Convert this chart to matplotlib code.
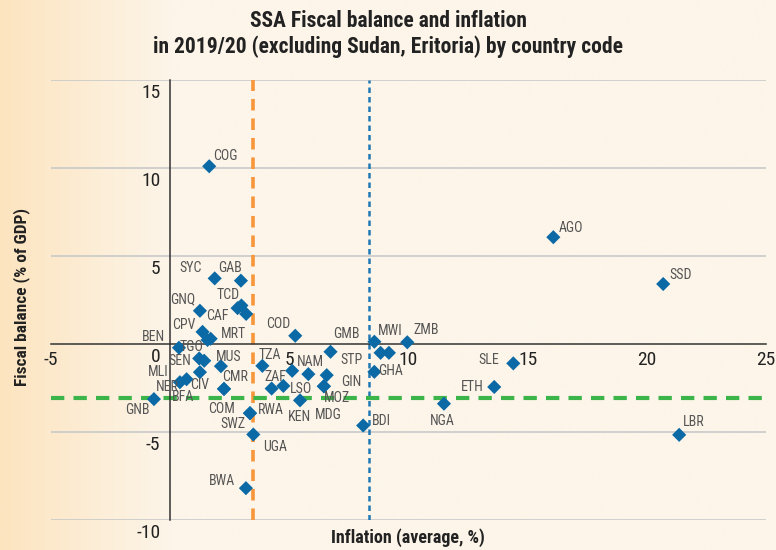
import numpy as np
import matplotlib.pyplot as plt
from matplotlib.colors import to_rgb
from matplotlib.transforms import ScaledTranslation

# --------------------------------------------------
# Data: inflation (avg, %) vs fiscal balance (% of GDP)
# --------------------------------------------------
codes = ["COG", "SYC", "GAB", "GNQ", "TCD", "CAF", "", "CPV", "MRT", "TGO",
         "BEN", "SEN", "MLI", "CIV", "NER", "BFA", "GNB", "MUS", "CMR", "COM",
         "RWA", "SWZ", "UGA", "BWA",
         "COD", "GMB", "MWI", "ZMB", "STP", "", "GHA", "TZA", "ZAF", "",
         "LSO", "NAM", "GIN", "MOZ", "MDG", "KEN", "BDI",
         "SLE", "ETH", "NGA", "LBR", "AGO", "SSD"]
inflation = [1.64, 1.87, 2.97, 1.25, 2.99, 3.19, 2.83, 1.36, 1.70, 1.57,
             0.37, 1.22, 1.43, 1.25, 0.41, 0.69, -0.68, 2.13, 2.26, 2.26,
             3.35, 3.35, 3.49, 3.18,
             5.25, 6.73, 8.57, 9.95, 8.83, 9.18, 8.57, 3.87, 4.75, 4.26,
             5.12, 5.80, 6.57, 6.45, 6.45, 5.45, 8.10,
             14.40, 13.60, 11.49, 21.36, 16.08, 20.69]
fiscal = [10.1, 3.73, 3.6, 1.89, 2.19, 1.71, 2.04, 0.69, 0.30, 0.23,
          -0.21, -0.82, -0.95, -1.6, -2.17, -2.0, -3.13, -1.26, -2.55, -2.55,
          -3.93, -3.93, -5.14, -8.19,
          0.47, -0.44, 0.13, 0.10, -0.50, -0.50, -1.58, -1.24, -2.38, -2.53,
          -1.52, -1.71, -1.77, -2.4, -2.4, -3.2, -4.63,
          -1.10, -2.44, -3.39, -5.16, 6.07, 3.41]

# label placement (pixel offsets from marker)
label_dx = [16, -24, -11, -17, -13, -29, 0, -19, 23, -16,
            -26, -19, -46, 0, -13, -4, -17, 8, 11, -2,
            21, -17, 22, -24,
            -17, 16, 16, 19, -29, 0, 16, 7, -8, 0,
            9, 2, 25, 13, 4, -1, 18,
            -25, -22, -2, 15, 18, 17]
label_dy = [10, 10, 13, 11, 10, -2, 0, 7, 5, -7,
            11, -3, -11, -13, -5, -18, -11, 9, 12, -20,
            3, -11, -13, 7,
            12, 18, 11, 12, -7, 0, 1, 11, 9, 0,
            -18, 12, -7, -12, -29, -17, 5,
            3, 0, -17, 13, 9, 9]

avg_inflation_ssa = 3.46
avg_inflation_all = 8.36
avg_fiscal = -3.05

x_ticks = [-5, 5, 10, 15, 20, 25]
y_ticks = [-10, -5, 0, 5, 10, 15]

plt.rcParams["font.family"] = ["Roboto Condensed", "Open Sans Condensed",
                               "Liberation Sans Narrow", "Roboto", "DejaVu Sans"]
plt.rcParams["axes.unicode_minus"] = False

# --------------------------------------------------
# Figure + background gradient
# --------------------------------------------------
fig = plt.figure(figsize=(7.76, 5.5), dpi=100)
bg = fig.add_axes([0, 0, 1, 1], zorder=-1)
left_c = np.array(to_rgb("#fce4bf"))
right_c = np.array(to_rgb("#fdf5e9"))
t = np.clip(np.linspace(0, 1, 400) / 0.22, 0, 1)[None, :, None]
grad = left_c * (1 - t) + right_c * t
bg.imshow(grad, aspect="auto", extent=[0, 1, 0, 1])
bg.axis("off")

ax = fig.add_axes([0.0657, 0.0545, 0.9213, 0.8])
ax.set_facecolor("none")
ax.set_xlim(-5, 25)
ax.set_ylim(-10, 15)

for v in y_ticks:
    if v != 0:
        ax.axhline(v, color="#c9c9c9", lw=1.2, zorder=1)

for side in ["top", "right"]:
    ax.spines[side].set_visible(False)
ax.spines["left"].set_position(("data", 0))
ax.spines["bottom"].set_position(("data", 0))
ax.spines["left"].set_color("#333333")
ax.spines["bottom"].set_color("#333333")
ax.spines["left"].set_linewidth(1.1)
ax.spines["bottom"].set_linewidth(1.1)

ax.set_xticks(x_ticks)
ax.set_yticks(y_ticks)
ax.tick_params(length=0, labelsize=14, colors="#222222")
ax.tick_params(axis="x", pad=5)
ax.tick_params(axis="y", pad=7)
shift = ScaledTranslation(0, -4 / 100, fig.dpi_scale_trans)
for lab in ax.get_yticklabels():
    lab.set_va("top")
    lab.set_transform(lab.get_transform() + shift)

# reference lines
ax.axvline(avg_inflation_ssa, color="#f7963a", lw=2.6, dashes=(3.2, 2.2), zorder=2)
ax.axvline(avg_inflation_all, color="#1f78b4", lw=1.8, dashes=(2.2, 1.6), zorder=2)
ax.axhline(avg_fiscal, color="#3bb54a", lw=3, dashes=(3.2, 2.2), zorder=2)

ax.scatter(inflation, fiscal, marker="D", s=52, color="#0b6aa6",
           edgecolors="none", zorder=4)

for c, x, y, dx, dy in zip(codes, inflation, fiscal, label_dx, label_dy):
    if c:
        ax.annotate(c, (x, y), xytext=(dx, dy), textcoords="offset pixels",
                    ha="center", va="center", fontsize=10, color="#555555",
                    zorder=5)

fig.text(0.526, 0.022, "Inflation (average, %)", ha="center", va="center",
         fontsize=13, fontweight="bold", color="#222222")
fig.text(0.028, 0.46, "Fiscal balance (% of GDP)", rotation=90,
         ha="center", va="center", fontsize=12.5, fontweight="bold",
         color="#222222")
fig.text(0.5, 0.938, "SSA Fiscal balance and inflation\n"
         "in 2019/20 (excluding Sudan, Eritoria) by country code",
         ha="center", va="center", fontsize=15.5, fontweight="bold",
         color="#222222", linespacing=1.2)

plt.savefig("out.png", dpi=100)
